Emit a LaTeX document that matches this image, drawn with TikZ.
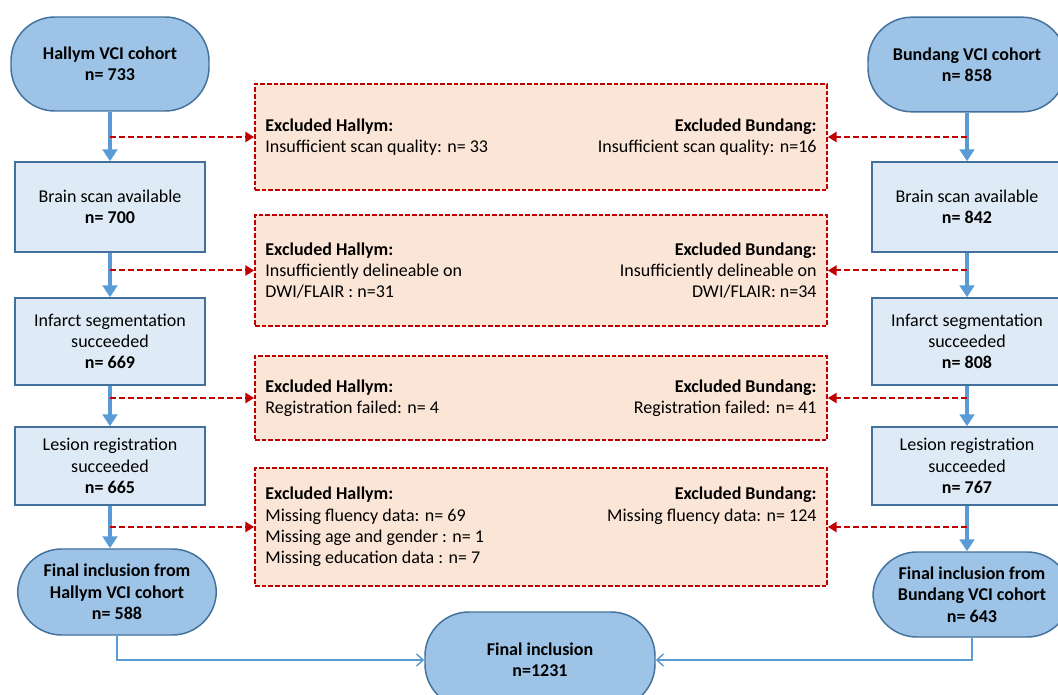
\documentclass[tikz,border=0pt]{standalone}
\usepackage{fontspec}
\setmainfont{Carlito}
\usetikzlibrary{arrows.meta,positioning}
\definecolor{cohortfill}{HTML}{9DC3E6}
\definecolor{boxline}{HTML}{41719C}
\definecolor{boxfill}{HTML}{DEEBF7}
\definecolor{flowblue}{HTML}{5B9BD5}
\definecolor{exred}{HTML}{C00000}
\definecolor{exfill}{HTML}{FBE5D6}
\begin{document}
\begin{tikzpicture}[x=0.75pt, y=-0.75pt,
	font=\fontsize{13.5}{16}\selectfont,
	cohort/.style={draw=boxline, line width=1.1pt, fill=cohortfill, rounded corners=33pt, align=center, font=\fontsize{13.5}{16}\selectfont\bfseries, minimum width=148.5pt, inner sep=0pt},
	stepbox/.style={draw=boxline, line width=1.1pt, fill=boxfill, align=center, minimum width=142.5pt, inner sep=0pt},
	exbox/.style={draw=exred, line width=1.3pt, dash pattern=on 3.5pt off 1.5pt, fill=exfill, minimum width=429pt, inner sep=0pt},
	exleft/.style={align=left, anchor=west, inner sep=0pt, xshift=8.25pt},
	exright/.style={align=right, anchor=north east, inner sep=0pt, xshift=-8.25pt},
	flow/.style={draw=flowblue, line width=3.6pt, -{Triangle[width=11pt,length=9pt]}},
	exarrow/.style={draw=exred, line width=1.5pt, dash pattern=on 4.5pt off 2.25pt, -{Triangle[width=7.5pt,length=6.5pt]}},
	joinline/.style={draw=flowblue, line width=1.1pt, -{Straight Barb[width=9pt,length=5pt]}}]

\useasboundingbox (0,0) rectangle (1058,695);

% Cohorte Hallym
\node[cohort, minimum height=70.5pt] (hcohort) at (110,64) {Hallym VCI cohort\\n= 733};
\node[stepbox, minimum height=67.5pt] (hscan) at (110,207) {Brain scan available\\\textbf{n= 700}};
\node[stepbox, minimum height=65.25pt] (hseg) at (110,341.5) {Infarct segmentation\\succeeded\\\textbf{n= 669}};
\node[stepbox, minimum height=58.5pt] (hreg) at (110,466) {Lesion registration\\succeeded\\\textbf{n= 665}};
\node[cohort, minimum width=149pt, minimum height=64.5pt] (hfinal) at (117,592) {Final inclusion from\\Hallym VCI cohort\\n= 588};

% Cohorte Bundang
\node[cohort, minimum height=71pt] (bcohort) at (967,64.5) {Bundang VCI cohort\\n= 858};
\node[stepbox, minimum height=67.5pt] (bscan) at (967,207) {Brain scan available\\\textbf{n= 842}};
\node[stepbox, minimum height=65.25pt] (bseg) at (967,341.5) {Infarct segmentation\\succeeded\\\textbf{n= 808}};
\node[stepbox, minimum height=58.5pt] (breg) at (967,466) {Lesion registration\\succeeded\\\textbf{n= 767}};
\node[cohort, minimum height=63.75pt] (bfinal) at (972,594.5) {Final inclusion from\\Bundang VCI cohort\\n= 643};

\node[cohort, minimum width=172.5pt, minimum height=72pt] (final) at (540,660) {Final inclusion\\n=1231};

% Exclusiones
\node[exbox, minimum height=79.5pt] (ex1) at (541,137) {};
\node[exbox, minimum height=83.25pt] (ex2) at (541,270.5) {};
\node[exbox, minimum height=63pt] (ex3) at (541,398) {};
\node[exbox, minimum height=88.5pt] (ex4) at (541,527) {};

\node[exleft] (ex1h) at (ex1.west) {\textbf{Excluded Hallym:}\\Insufficient scan quality: n= 33};
\node[exright] (ex1b) at (ex1h.north -| ex1.east) {\textbf{Excluded Bundang:}\\Insufficient scan quality: n=16};
\node[exleft] (ex2h) at (ex2.west) {\textbf{Excluded Hallym:}\\Insufficiently delineable on\\DWI/FLAIR : n=31};
\node[exright] (ex2b) at (ex2h.north -| ex2.east) {\textbf{Excluded Bundang:}\\Insufficiently delineable on\\DWI/FLAIR: n=34};
\node[exleft] (ex3h) at (ex3.west) {\textbf{Excluded Hallym:}\\Registration failed: n= 4};
\node[exright] (ex3b) at (ex3h.north -| ex3.east) {\textbf{Excluded Bundang:}\\Registration failed: n= 41};
\node[exleft] (ex4h) at (ex4.west) {\textbf{Excluded Hallym:}\\Missing fluency data: n= 69\\Missing age and gender : n= 1\\Missing education data : n= 7};
\node[exright] (ex4b) at (ex4h.north -| ex4.east) {\textbf{Excluded Bundang:}\\Missing fluency data: n= 124};

% Flechas
\foreach \a/\b in {hcohort/hscan, hscan/hseg, hseg/hreg, bcohort/bscan, bscan/bseg, bseg/breg}
	\draw[flow] (\a) -- (\b);
\foreach \a/\b in {hreg/hfinal, breg/bfinal}
	\draw[flow] (\a.south) -- (\a.south |- \b.north);

\foreach \a/\e in {hcohort/ex1, hscan/ex2, hseg/ex3, hreg/ex4}
	\draw[exarrow] (\a.south |- \e.west) -- (\e.west);
\foreach \a/\e in {bcohort/ex1, bscan/ex2, bseg/ex3, breg/ex4}
	\draw[exarrow] (\a.south |- \e.east) -- (\e.east);

\draw[joinline] (hfinal.south) |- (final.west);
\draw[joinline] (bfinal.south) |- (final.east);
\end{tikzpicture}
\end{document}
